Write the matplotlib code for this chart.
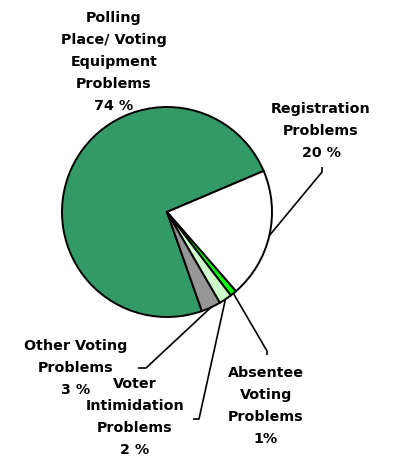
import numpy as np
import matplotlib.pyplot as plt

# Voting problem categories and their shares (%)
categories = ["Polling Place/ Voting Equipment Problems", "Registration Problems",
              "Absentee Voting Problems", "Voter Intimidation Problems",
              "Other Voting Problems"]
shares = [74, 20, 1, 2, 3]
label_lines = [["Polling", "Place/ Voting", "Equipment", "Problems", "74 %"],
               ["Registration", "Problems", "20 %"],
               ["Absentee", "Voting", "Problems", "1%"],
               ["Voter", "Intimidation", "Problems", "2 %"],
               ["Other Voting", "Problems", "3 %"]]
colors = ["#339966", "#FFFFFF", "#00FF00", "#CCFFCC", "#969696"]

W, H = 393, 458
fig = plt.figure(figsize=(W / 100, H / 100), dpi=100)
ax = fig.add_axes([0, 0, 1, 1])

cx, cy, r = 167, H - 212, 105
# rotate so that the registration wedge begins at ~23 deg and runs clockwise
start = 23 + 74 / 100 * 360
wedges, _ = ax.pie(shares, colors=colors, startangle=start, counterclock=False,
                   center=(cx, cy), radius=r,
                   wedgeprops=dict(edgecolor="black", linewidth=1.4))
ax.set_xlim(0, W)
ax.set_ylim(0, H)
ax.set_aspect("equal")
ax.axis("off")

font = dict(family="DejaVu Sans", fontweight="bold", fontsize=10.3,
            ha="center", va="center")

# label anchors: centre x, first line y (from top), line step
label_pos = [(114, 18), (321, 109), (266, 373), (135, 384), (76, 346)]
step = 21.9
for lines, (x, y0) in zip(label_lines, label_pos):
    for k, line in enumerate(lines):
        ax.text(x, H - (y0 + k * step), line, **font)


def edge_point(w):
    mid = np.deg2rad((w.theta1 + w.theta2) / 2)
    return cx + r * np.cos(mid), cy + r * np.sin(mid)


# leader lines: lists of points (from top) ending at the wedge edge
leaders = {
    1: [(322, 167), (322, 172)],
    2: [(267, 355), (267, 351)],
    3: [(193, 419), (199, 419)],
    4: [(138, 368), (146, 368)],
}
for i, pts in leaders.items():
    ex, ey = edge_point(wedges[i])
    xs = [p[0] for p in pts] + [ex]
    ys = [H - p[1] for p in pts] + [ey]
    ax.plot(xs, ys, color="black", lw=1.2, solid_capstyle="butt")

fig.savefig("out.png", dpi=100, facecolor="white")
